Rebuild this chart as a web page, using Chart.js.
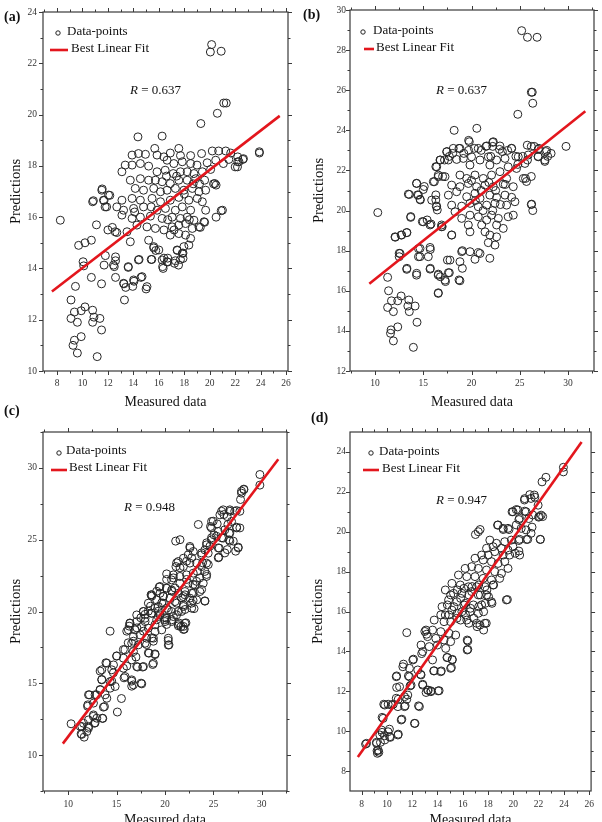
<!DOCTYPE html>
<html>
<head>
<meta charset="utf-8">
<script src="https://cdn.jsdelivr.net/npm/chart.js@4.4.0/dist/chart.umd.min.js"></script>
<style>
  html, body { margin: 0; padding: 0; background: #fff; overflow: hidden; }
  #page { position: relative; width: 602px; height: 822px; overflow: hidden; background: #fff; }
  canvas { position: absolute; }
  .tag { position: absolute; font: bold 14px "Liberation Serif", serif; line-height: 14px; color: #111; }
</style>
</head>
<body>
<div id="page">
  <canvas id="ca" width="301" height="411" style="left:0;top:0"></canvas>
  <canvas id="cb" width="301" height="411" style="left:301px;top:0"></canvas>
  <canvas id="cc" width="301" height="418" style="left:0;top:411px"></canvas>
  <canvas id="cd" width="301" height="418" style="left:301px;top:411px"></canvas>
  <div class="tag" style="left:4px;top:10px">(a)</div>
  <div class="tag" style="left:303px;top:8px">(b)</div>
  <div class="tag" style="left:4px;top:404px">(c)</div>
  <div class="tag" style="left:311px;top:411px">(d)</div>
</div>
<script>
/****************** data ******************/
const aPts = [[8.26,15.88],[9.7,14.9],[10.2,15.0],[10.7,15.1],[10.05,14.26],[10.1,14.1],[10.8,16.6],[11.1,15.7],[11.55,17.1],[11.7,16.65],[11.9,16.4],[12.15,16.85],[12.0,15.5],[12.35,15.6],[12.7,15.4],[11.8,14.5],[11.7,14.13],[11.5,13.4],[10.7,13.65],[9.45,13.3],[9.1,12.77],[9.37,12.3],[9.1,12.05],[9.6,11.9],[9.9,12.35],[10.2,12.5],[10.8,12.37],[10.9,12.1],[10.8,11.9],[11.37,12.05],[11.5,11.6],[9.37,11.2],[9.26,11.0],[9.9,11.34],[9.6,10.7],[11.16,10.56],[12.6,14.3],[12.6,14.45],[12.5,14.07],[12.6,13.65],[13.26,13.4],[13.3,12.77],[13.4,13.26],[13.6,14.07],[13.95,13.3],[14.05,13.5],[14.6,13.65],[15.0,13.2],[14.45,14.35],[15.45,14.35],[15.6,14.8],[15.76,14.7],[16.3,14.07],[16.4,14.4],[16.7,14.25],[16.7,14.4],[17.3,14.3],[17.55,14.13],[17.7,14.35],[17.9,14.6],[17.45,14.7],
  [20.3,17.3],[20.5,17.25],[20.9,16.25],[20.5,16.0],[19.6,15.8],[19.26,15.6],[19.3,19.65],[20.6,20.05],[21.1,20.45],[21.3,20.45],[20.15,22.73],[20.05,22.44],[20.9,22.47],[23.9,18.5],[22.6,18.25],[22.0,17.96],[22.2,18.16],
  [14.36,19.13],[16.26,19.16],[15.68,18.68],[17.57,18.68],[16.9,18.5],[17.7,18.4],[18.5,18.4],[19.36,18.48],[20.2,18.58],[20.7,18.58],[21.26,18.58],[21.65,18.5],[22.2,18.35],[22.65,18.28],[23.9,18.55],[13.9,18.42],[14.4,18.48],[14.95,18.45],[15.86,18.42],[16.4,18.35],
  [13.36,18.03],[13.9,18.03],[14.55,18.09],[15.2,17.99],[16.65,18.22],[17.18,18.09],[17.84,18.16],[18.5,18.09],[19.0,18.03],[19.8,18.12],[20.47,18.22],[21.07,18.09],[21.5,18.25],[22.3,18.16],[22.18,17.96],[13.1,17.77],
  [15.86,17.77],[16.5,17.83],[17.13,17.7],[17.7,17.77],[18.23,17.77],[18.76,17.7],[19.42,17.77],[20.07,17.86],[13.76,17.44],[14.55,17.5],[15.2,17.44],[15.73,17.44],[16.26,17.38],[16.9,17.31],[17.57,17.44],[18.23,17.44],[18.9,17.5],[19.6,17.44],[20.4,17.31],
  [11.52,17.05],[12.05,16.86],[14.15,17.12],[14.8,17.05],[15.6,17.12],[16.13,16.99],[16.65,17.05],[17.3,17.12],[17.97,17.05],[18.63,17.12],[19.15,16.99],[19.68,17.05],[10.86,16.64],[11.65,16.66],[11.78,16.4],[13.1,16.66],[13.9,16.73],[14.55,16.66],[15.47,16.73],[16.13,16.6],[16.9,16.66],[17.57,16.77],[18.36,16.66],[19.02,16.73],[19.42,16.6],
  [12.7,16.4],[13.23,16.27],[14.02,16.34],[14.8,16.4],[15.86,16.27],[16.52,16.34],[17.3,16.27],[17.84,16.4],[18.5,16.27],[19.68,16.27],[21.0,16.27],[13.1,16.08],[13.9,15.95],[14.55,16.0],[15.34,16.04],[16.26,15.95],[17.05,16.0],[17.7,15.95],[18.23,16.0],[18.76,15.88],[19.55,15.82],
  [12.57,15.43],[13.5,15.43],[14.28,15.69],[15.07,15.62],[15.73,15.56],[16.4,15.5],[17.05,15.62],[17.57,15.69],[18.1,15.75],[18.63,15.56],[19.15,15.62],[16.9,15.3],[17.57,15.36],[18.1,15.3],[18.5,15.17],
  [13.76,15.04],[15.2,15.1],[15.6,14.85],[16.0,14.72],[17.44,14.72],[17.97,14.85],[18.36,14.91],[17.84,14.59],
  [12.44,14.13],[13.6,14.04],[14.4,14.33],[15.4,14.35],[16.26,14.33],[16.65,14.26],[16.34,14.0],[17.23,14.2],[17.9,14.39],
  [13.23,13.42],[14.02,13.55],[14.68,13.68],[15.07,13.29],
  [18.0,16.9],[18.7,17.3],[17.4,17.6],[16.6,17.6],[19.2,17.3],[18.4,15.9],[17.2,15.5],[16.7,15.9],[15.4,16.4],[14.1,16.2]];
const aFitX = [7.6, 25.5];
const aFitY = [13.1, 19.95];

const bPts = [[10.28,19.9],[11.3,16.67],[11.4,16.0],[11.3,15.17],[11.7,15.5],[11.9,14.96],[12.35,15.5],[12.7,15.74],[11.66,14.05],[11.6,13.88],[12.35,14.2],[11.9,13.5],[13.5,15.54],[13.4,15.24],[13.55,14.96],[14.15,15.24],[14.35,14.43],[13.97,13.18],
  [12.1,18.67],[12.7,18.78],[13.3,18.9],[12.5,17.87],[12.5,17.7],[13.3,17.12],[14.3,16.78],[13.7,19.7],[13.55,20.8],
  [14.3,21.36],[14.4,20.78],[14.7,20.53],[15.1,21.2],[14.5,18.1],[14.5,17.7],[14.9,19.45],[15.4,19.53],[15.8,19.33],[15.73,18.06],[15.73,17.12],[16.3,20.53],[16.35,20.2],[16.45,20.03],[16.3,20.78],[16.15,21.44],[16.3,22.19],[16.55,21.77],[16.55,16.78],[16.55,15.87],[16.77,16.7],[16.96,19.2],[17.3,16.46],[17.7,16.9],[17.5,17.53],[17.95,18.78],[18.7,16.54],[19.05,18.0],[19.05,17.12],[17.0,21.7],[17.2,22.52],[16.77,22.52],[17.46,22.94],[17.7,22.7],[18.05,22.85],[18.2,24.0],[20.55,24.1],[18.7,23.1],[19.7,23.5],[19.7,23.0],[19.2,22.85],[20.3,23.1],[21.0,23.0],[21.5,23.2],[22.2,23.4],[22.2,23.2],[22.9,23.05],[23.2,22.94],[23.75,23.0],[24.15,23.1],
  [24.8,24.8],[26.2,25.9],[26.3,25.9],[26.35,25.35],[25.2,28.97],[25.8,28.64],[26.8,28.64],[26.2,23.2],[26.5,23.2],[27.0,23.1],[26.9,22.7],[27.7,22.94],[27.9,22.7],[27.6,22.45],[28.25,22.85],[29.8,23.2],[26.2,21.7],[25.6,21.6],[25.7,21.45],[26.2,20.3],[26.35,20.0],[24.8,22.3],[24.6,22.7],[25.3,22.7],[25.8,22.52],
  [19.77,23.43],[17.42,22.93],[18.11,23.1],[18.8,23.1],[20.7,23.1],[21.57,23.22],[22.26,23.43],[22.95,23.22],[24.16,23.1],[25.78,23.26],[26.92,23.05],[27.8,23.0],
  [16.73,22.52],[17.6,22.52],[18.46,22.55],[19.15,22.6],[20.0,22.68],[20.88,22.52],[21.74,22.68],[22.6,22.52],[23.47,22.6],[24.85,22.68],[25.88,22.77],[26.92,22.68],[27.6,22.52],[25.54,22.35],[16.39,22.18],[19.84,22.27],[21.9,22.27],[23.8,22.18],[24.67,22.1],
  [16.56,21.69],[17.25,21.69],[18.8,21.77],[19.5,21.6],[20.36,21.77],[21.22,21.6],[22.08,21.77],[22.95,21.94],[23.64,21.6],[25.37,21.6],[16.04,21.44],[14.31,21.35],[17.94,21.27],[18.8,21.19],[19.67,21.35],[20.53,21.19],[21.4,21.27],[22.26,21.19],[23.29,21.32],[24.33,21.19],
  [13.45,20.82],[14.49,20.77],[15.0,21.05],[17.6,20.77],[18.46,20.94],[19.5,20.69],[20.36,20.86],[20.88,20.61],[21.9,20.77],[22.6,20.66],[23.47,20.77],[24.16,20.66],[24.5,20.44],[14.66,20.56],[15.87,20.52],[16.39,20.22],[17.94,20.27],[18.98,20.22],[19.84,20.36],[20.7,20.19],[21.57,20.27],[22.43,20.36],[23.64,20.27],[26.23,20.32],
  [13.69,19.66],[15.0,19.44],[15.7,19.28],[16.9,19.28],[18.29,19.94],[18.98,19.61],[19.84,19.77],[20.7,19.69],[21.57,19.53],[22.08,19.77],[22.78,19.61],[23.8,19.69],[24.33,19.77],[19.67,19.28],[21.05,19.28],[22.6,19.28],
  [12.07,18.69],[12.76,18.78],[13.28,18.9],[16.9,19.19],[17.94,18.78],[19.84,18.94],[21.4,18.94],[21.9,18.78],[22.6,18.69],[23.29,19.11],[21.74,18.4],[22.43,18.28],
  [12.59,17.86],[14.66,18.11],[15.7,18.16],[14.66,17.7],[15.52,17.7],[17.77,17.53],[18.98,17.95],[19.84,17.95],[20.7,17.9],[20.36,17.57],[21.9,17.62],[20.88,17.86],
  [13.28,17.07],[14.31,16.87],[15.7,17.08],[16.56,16.83],[17.6,16.9],[17.25,16.53],[18.8,16.5],[18.8,17.45],[16.56,15.9],
  [21.0,21.0],[21.8,21.4],[22.5,21.0],[23.0,20.3],[20.4,20.5],[21.2,20.0],[22.2,20.0],[23.5,21.3],[20.0,21.5],[22.0,22.7]];
const bFitX = [9.4, 31.8];
const bFitY = [16.35, 24.95];

const cPts = [[10.3,12.18],[11.24,12.0],[11.4,11.44],[11.65,11.25],[12.1,12.0],[12.6,12.7],[12.78,12.25],[12.0,13.4],[12.2,14.2],[12.95,14.2],[13.3,14.57],[13.47,15.27],[13.3,15.85],[13.9,16.43],[13.64,13.34],[13.57,12.55],[15.08,13.0],[15.5,13.94],[14.67,15.73],[14.5,15.15],[14.33,18.63],[15.0,16.89],[15.77,15.38],[16.05,16.2],[16.56,15.15],[17.6,14.96],[16.56,14.8],[17.16,16.13],[17.7,16.13],[17.0,16.83],[15.7,17.35],[16.2,17.82],[16.3,18.98],[16.37,19.2],[16.05,18.63],[16.74,17.93],[17.1,18.86],[17.5,19.56],[17.94,19.8],[18.28,20.02],[18.5,20.37],[17.77,18.63],[18.1,17.7],[18.28,17.12],[18.73,16.31],[18.97,17.0],[18.63,18.17],[18.8,17.93],[18.63,21.07],[19.14,21.41],[19.4,21.7],[19.83,21.07],[19.66,20.6],[19.3,20.02],[20.0,19.56],[20.17,19.1],[20.34,17.98],[20.34,17.66],[20.17,22.62],[20.17,22.23],[20.7,21.41],[20.86,22.34],[21.2,23.39],[21.1,24.9],[21.55,25.0],[21.37,19.1],[21.9,18.75],[22.16,19.21],[22.06,20.14],[21.7,20.95],[21.55,23.04],[22.23,23.5],[22.23,22.23],[22.58,24.43],[22.75,23.74],[22.9,21.88],[23.0,20.2],[22.9,20.77],[23.26,22.1],[23.6,22.34],[23.44,26.06],[23.78,24.08],[23.88,23.39],[24.12,20.72],[23.78,21.53],[24.3,22.58],[24.47,23.27],[24.64,24.55],[24.8,25.13],[24.8,25.82],[24.98,26.29],[25.5,23.74],[25.5,24.43],[25.84,25.13],[25.84,26.98],[26.08,26.75],[26.18,24.08],[26.43,24.31],[26.5,26.06],[26.7,26.98],[26.7,24.9],[27.2,26.98],[27.3,24.2],[27.56,24.43],[27.73,25.82],[27.8,27.8],[27.73,26.98],[27.4,25.82],[27.05,24.9],[27.9,28.38],[28.15,28.49],[29.8,29.54],[29.8,28.8],[26.7,25.47],[25.33,25.24],[24.3,24.78],
  [28.14,28.52],[27.9,28.24],[27.39,27.03],[26.7,27.08],[26.01,27.08],[25.67,26.73],[26.42,26.61],[26.87,26.27],[27.39,25.87],[27.56,24.48],[26.63,25.45],[26.18,25.69],[25.39,26.1],[24.81,26.27],[24.7,25.92],[25.5,25.57],[25.05,25.34],[26.01,25.11],[26.63,24.99],[25.6,24.41],[24.81,24.99],[24.29,24.64],[24.12,24.29],[24.46,24.06],[25.56,23.78],[23.78,23.95],[22.57,24.53],[22.92,24.18],[22.4,23.95],[21.9,23.71],[21.37,23.48],[21.13,23.13],[21.9,23.13],[22.57,23.37],[23.27,23.37],[23.78,23.13],[24.29,23.37],[23.33,22.79],[22.92,22.67],[22.23,22.55],[21.54,22.44],[20.86,22.55],[20.68,22.2],[21.54,21.97],[22.4,21.97],[23.09,21.86],[23.95,21.97],[24.29,22.44],[24.12,22.79],[19.48,21.74],[20.17,21.63],[21.03,21.63],[22.06,21.39],[22.92,21.28],[23.6,21.39],[23.27,20.81],[22.57,20.93],[21.9,21.04],[18.62,21.16],[19.82,21.04],[20.51,20.93],[21.2,20.58],[21.9,20.35],[22.75,20.58],[24.12,20.74],[18.28,20.58],[19.31,20.35],[20.17,20.23],[20.68,20.0],[21.2,19.77],[21.7,20.0],[17.76,20.0],[18.62,19.88],[19.31,19.65],[19.99,19.42],[20.68,19.3],[17.94,19.3],[18.96,19.07],[21.47,19.19],[21.9,18.96],
  [18.56,21.16],[19.49,21.27],[20.17,21.62],[20.69,21.5],[21.38,21.27],[22.06,21.16],[22.75,21.27],[19.14,20.81],[19.83,20.58],[21.03,20.69],[21.89,20.46],[22.75,20.23],[18.97,20.23],[20.34,20.11],[21.38,20.0],[17.77,20.0],[18.63,19.88],[19.49,19.76],[20.17,19.53],[20.86,19.65],[17.08,19.76],[17.94,19.53],[19.14,19.42],[20.0,19.3],[20.69,19.42],[21.38,19.0],[21.65,18.95],[22.06,19.18],[21.99,18.77],[16.39,19.18],[17.08,19.3],[16.22,18.72],[16.91,18.72],[17.6,18.95],[18.28,18.84],[18.97,18.6],[19.66,18.72],[16.74,18.26],[17.42,18.37],[18.11,18.14],[18.8,18.14],[20.34,18.14],[20.41,17.68],[16.56,17.79],[17.25,17.68],[17.94,17.79],[15.88,17.33],[16.74,17.21],[18.35,17.1],[18.97,17.05],[18.8,16.4],[15.02,16.91],[15.7,16.75],[16.56,16.63],[17.08,16.17],[17.77,16.17],[13.99,16.4],[14.68,16.28],[15.7,16.05],[13.47,15.94],[14.5,15.94],[15.88,15.47],[16.56,15.24],[16.74,14.89],[17.53,15.01],[13.47,15.24],[14.33,15.12],[14.85,14.78],[13.3,14.54],[14.33,14.66],[13.82,14.2],[12.1,14.2],[12.78,14.2],[13.99,13.96],[12.03,13.5],[12.61,13.62],[13.75,13.38],[12.61,12.8],[12.1,12.45],[12.96,12.57],[13.54,12.57],[11.58,12.22],[12.71,12.22],[11.41,11.99],[12.1,11.88],[11.34,11.48],[11.93,11.64]];
const cFitX = [9.45, 31.7];
const cFitY = [10.8, 30.6];

const dPts = [[23.96,23.23],[23.96,23.0],[22.58,22.73],[22.27,22.5],[21.3,21.86],[20.9,21.66],[21.7,21.73],[21.96,21.33],[22.0,20.73],[22.2,20.83],[22.14,19.61],[21.48,20.23],[21.22,20.66],[20.9,21.03],[20.23,21.11],[19.9,21.0],[20.44,20.61],[21.04,19.61],[20.44,19.56],[20.44,19.03],[20.5,18.83],[19.66,20.11],[19.2,20.11],[18.75,20.33],[17.37,20.11],[17.0,19.86],[19.53,16.6],
  [8.31,9.35],[9.17,9.44],[9.22,9.02],[9.36,8.94],[9.49,9.44],[9.62,9.94],[9.8,9.77],[10.27,9.69],[10.2,10.1],[10.9,9.85],[9.75,11.35],[9.62,10.69],[10.1,11.35],[10.5,11.35],[10.77,12.19],[10.77,12.77],[10.9,11.6],[11.18,10.6],[11.44,11.27],[11.57,11.6],[11.57,14.94],[11.31,13.36],[11.7,12.77],[11.83,12.27],[12.22,10.39],[12.1,13.61],[12.5,11.27],[12.67,12.85],[12.75,13.89],[12.83,12.35],[13.1,11.94],[13.27,12.05],[13.48,12.02],[14.05,12.02],[13.7,13.02],[14.3,13.02],[14.75,13.69],[15.17,13.6],[15.1,13.19],[16.4,14.52],[16.4,14.1],[13.14,14.86],[13.0,15.0],
  [21.66,21.84],[21.4,21.67],[20.88,21.59],[20.36,21.09],[19.97,21.0],[21.01,21.0],[21.53,20.84],[22.06,20.76],[22.32,20.76],[20.49,20.67],[20.23,20.34],[19.58,20.17],[20.62,20.17],[21.01,20.09],[21.4,19.92],[20.49,19.62],[21.14,19.62],[22.13,19.62],[18.79,20.34],[19.19,20.17],[17.23,20.0],[18.14,19.58],[18.66,19.42],[19.32,19.5],[19.84,19.58],[19.97,19.25],[19.58,19.08],[19.06,19.17],[18.4,19.25],[17.88,19.17],[17.49,18.83],[18.01,18.83],[18.53,19.0],[19.19,18.83],[19.71,18.83],[20.15,18.92],[16.97,18.67],[17.62,18.58],[18.27,18.5],[18.79,18.41],[19.32,18.5],[19.58,18.16],[16.19,18.16],[16.71,18.25],[17.23,18.16],[17.88,18.08],[18.53,18.0],[19.06,17.91],[15.66,17.83],[16.32,17.75],[16.97,17.75],[17.62,17.66],[18.27,17.58],[18.92,17.66],[15.14,17.41],[15.8,17.33],[16.45,17.24],[17.1,17.24],[17.75,17.24],[18.4,17.33],[14.62,17.08],[15.27,16.91],[15.93,16.91],[16.71,17.0],[17.23,16.83],[17.88,16.83],[18.27,16.49],[19.45,16.58],[14.88,16.58],[15.53,16.49],[16.19,16.41],[16.84,16.33],[17.49,16.33],[14.36,16.24],[15.14,16.07],[15.93,15.99],[16.58,15.99],[17.23,15.91],[14.62,15.82],[15.53,15.66],[16.32,15.57],[17.1,15.41],[17.75,15.41],[17.36,15.32],
  [15.04,16.83],[15.57,17.08],[16.09,17.16],[16.74,17.25],[17.26,17.33],[17.91,17.08],[18.44,17.33],[15.83,16.66],[16.48,16.83],[17.39,16.83],[18.04,16.74],[14.78,16.33],[15.3,16.24],[16.09,16.33],[16.61,16.16],[17.26,16.24],[17.78,16.41],[18.31,16.41],[14.26,15.83],[14.91,15.83],[15.57,15.91],[16.22,15.83],[16.87,15.66],[17.65,15.99],[13.74,15.57],[14.52,15.49],[15.04,15.49],[15.83,15.57],[16.48,15.41],[17.13,15.24],[17.65,15.07],[17.86,15.41],[13.09,15.07],[13.61,15.07],[14.26,14.99],[14.91,14.91],[15.44,14.82],[13.22,14.74],[13.87,14.65],[14.52,14.57],[15.04,14.49],[16.35,14.57],[16.35,14.07],[12.7,14.32],[13.35,14.24],[14.0,14.32],[14.65,14.15],[12.83,13.99],[13.61,13.57],[14.78,13.7],[15.17,13.57],[12.05,13.57],[11.78,13.15],[12.44,13.07],[11.26,13.23],[13.74,13.03],[14.26,12.98],[15.04,13.15],[10.74,12.73],[11.78,12.73],[12.7,12.82],[11.0,12.23],[11.91,12.31],[12.83,12.31],[13.22,12.06],[14.13,12.03],[13.48,11.98],[10.74,11.65],[11.39,11.73],[11.65,11.81],[9.83,11.31],[10.35,11.31],[10.87,11.23],[11.39,11.23],[12.57,11.23],[9.7,10.64],[11.13,10.56],[12.18,10.39],[9.57,10.06],[10.09,9.97],[9.44,9.81],[10.22,9.72],[10.87,9.81],[9.83,9.56],[8.39,9.39],[9.18,9.39],[9.31,9.05],[9.25,8.89]];
const dFitX = [7.7, 25.4];
const dFitY = [8.7, 24.5];

// tick values
const aXTicks = [8, 10, 12, 14, 16, 18, 20, 22, 24, 26];
const aXMinor = [7, 9, 11, 13, 15, 17, 19, 21, 23, 25];
const aYTicks = [10, 12, 14, 16, 18, 20, 22, 24];
const aYMinor = [11, 13, 15, 17, 19, 21, 23];
const bXTicks = [10, 15, 20, 25, 30];
const bXMinor = [7.5, 12.5, 17.5, 22.5, 27.5, 32.5];
const bYTicks = [12, 14, 16, 18, 20, 22, 24, 26, 28, 30];
const bYMinor = [13, 15, 17, 19, 21, 23, 25, 27, 29];
const cXTicks = [10, 15, 20, 25, 30];
const cXMinor = [7.5, 12.5, 17.5, 22.5, 27.5, 32.5];
const cYTicks = [10, 15, 20, 25, 30];
const cYMinor = [7.5, 12.5, 17.5, 22.5, 27.5, 32.5];
const dXTicks = [8, 10, 12, 14, 16, 18, 20, 22, 24, 26];
const dXMinor = [9, 11, 13, 15, 17, 19, 21, 23, 25];
const dYTicks = [8, 10, 12, 14, 16, 18, 20, 22, 24];
const dYMinor = [9, 11, 13, 15, 17, 19, 21, 23];

const serif = '"Liberation Serif", "Times New Roman", serif';

/****************** frame, outward ticks, legend, R ******************/
const frameTicks = {
  id: 'frameTicks',
  afterDraw(chart, args, o) {
    const ctx = chart.ctx, ca = chart.chartArea;
    const sx = chart.scales.x, sy = chart.scales.y;
    ctx.save();
    ctx.strokeStyle = '#3a3a3a';
    ctx.lineWidth = 1.2;
    ctx.strokeRect(ca.left, ca.top, ca.right - ca.left, ca.bottom - ca.top);
    ctx.lineWidth = 1;
    const xt = (vals, len) => vals.forEach(v => {
      const px = Math.round(sx.getPixelForValue(v)) + 0.5;
      if (px < ca.left - 0.5 || px > ca.right + 0.5) return;
      ctx.beginPath();
      ctx.moveTo(px, ca.bottom); ctx.lineTo(px, ca.bottom + len);
      ctx.moveTo(px, ca.top); ctx.lineTo(px, ca.top - len);
      ctx.stroke();
    });
    const yt = (vals, len) => vals.forEach(v => {
      const py = Math.round(sy.getPixelForValue(v)) + 0.5;
      if (py < ca.top - 0.5 || py > ca.bottom + 0.5) return;
      ctx.beginPath();
      ctx.moveTo(ca.left, py); ctx.lineTo(ca.left - len, py);
      ctx.moveTo(ca.right, py); ctx.lineTo(ca.right + len, py);
      ctx.stroke();
    });
    xt(o.xMajor, 4); xt(o.xMinor, 2.5);
    yt(o.yMajor, 4); yt(o.yMinor, 2.5);

    // legend
    const L = o.legend;
    ctx.fillStyle = '#111';
    ctx.textBaseline = 'middle';
    ctx.font = '13px ' + serif;
    ctx.beginPath();
    ctx.arc(L.mx, L.my, 2.2, 0, Math.PI * 2);
    ctx.strokeStyle = '#222';
    ctx.stroke();
    ctx.fillText('Data-points', L.tx, L.ty);
    ctx.beginPath();
    ctx.strokeStyle = '#e3161d';
    ctx.lineWidth = 2.6;
    ctx.moveTo(L.lx0, L.ly); ctx.lineTo(L.lx1, L.ly);
    ctx.stroke();
    ctx.fillText('Best Linear Fit', L.tx2, L.ty2);

    // R label
    ctx.font = 'italic 13px ' + serif;
    ctx.fillText('R', o.rPos[0], o.rPos[1]);
    const w = ctx.measureText('R').width;
    ctx.font = '13px ' + serif;
    ctx.fillText(' = ' + o.rText, o.rPos[0] + w, o.rPos[1]);
    ctx.restore();
  }
};

function makePanel(id, p) {
  return new Chart(document.getElementById(id), {
    type: 'scatter',
    data: {
      datasets: [
        { order: 0, showLine: true, data: p.fitX.map((v, i) => ({x: v, y: p.fitY[i]})),
          borderColor: '#e3161d', borderWidth: 2.6, pointRadius: 0, fill: false },
        { order: 1, data: p.pts.map(d => ({x: d[0], y: d[1]})),
          pointRadius: 4, borderWidth: 1, borderColor: '#262626', backgroundColor: 'rgba(255,255,255,0)' }
      ]
    },
    options: {
      responsive: false,
      animation: false,
      events: [],
      layout: { padding: p.pad },
      scales: {
        x: {
          type: 'linear', min: p.xr[0], max: p.xr[1],
          afterBuildTicks: s => { s.ticks = p.xMajor.map(v => ({value: v})); },
          afterFit: s => { s.height = p.xH; },
          grid: { display: false, drawTicks: false },
          border: { display: false },
          ticks: { font: { family: serif, size: 9.5 }, color: '#333', padding: p.xPad, maxRotation: 0, autoSkip: false },
          title: { display: true, text: 'Measured data', font: { family: serif, size: 14 }, color: '#111', padding: { top: 0, bottom: 0.6 } }
        },
        y: {
          type: 'linear', min: p.yr[0], max: p.yr[1],
          afterBuildTicks: s => { s.ticks = p.yMajor.map(v => ({value: v})); },
          afterFit: s => { s.width = p.yW; },
          grid: { display: false, drawTicks: false },
          border: { display: false },
          ticks: { font: { family: serif, size: 9.5 }, color: '#333', padding: p.yPad, autoSkip: false },
          title: { display: true, text: 'Predictions', font: { family: serif, size: 14.5 }, color: '#111', padding: { top: p.yTitlePad, bottom: 0 } }
        }
      },
      plugins: {
        legend: { display: false },
        tooltip: { enabled: false },
        frameTicks: {
          xMajor: p.xMajor, xMinor: p.xMinor, yMajor: p.yMajor, yMinor: p.yMinor,
          legend: p.legend, rText: p.rText, rPos: p.rPos
        }
      }
    },
    plugins: [frameTicks]
  });
}

makePanel('ca', {
  pts: aPts, fitX: aFitX, fitY: aFitY, xr: [6.9, 26.15], yr: [10, 24],
  xMajor: aXTicks, xMinor: aXMinor, yMajor: aYTicks, yMinor: aYMinor,
  pad: { left: 0, top: 12, right: 13, bottom: 0 }, xH: 40, yW: 43, xPad: 7, yPad: 6, yTitlePad: 7.3,
  legend: { mx: 58, my: 33, tx: 67, ty: 32, lx0: 50, lx1: 68, ly: 50, tx2: 71, ty2: 49 },
  rText: '0.637', rPos: [130, 91]
});
makePanel('cb', {
  pts: bPts, fitX: bFitX, fitY: bFitY, xr: [7.4, 32.7], yr: [12, 30],
  xMajor: bXTicks, xMinor: bXMinor, yMajor: bYTicks, yMinor: bYMinor,
  pad: { left: 0, top: 10, right: 8, bottom: 0 }, xH: 40, yW: 49, xPad: 7, yPad: 4, yTitlePad: 9.3,
  legend: { mx: 62, my: 32, tx: 72, ty: 31, lx0: 63, lx1: 73, ly: 49, tx2: 75, ty2: 48 },
  rText: '0.637', rPos: [135, 91]
});
makePanel('cc', {
  pts: cPts, fitX: cFitX, fitY: cFitY, xr: [7.4, 32.6], yr: [7.5, 32.5],
  xMajor: cXTicks, xMinor: cXMinor, yMajor: cYTicks, yMinor: cYMinor,
  pad: { left: 0, top: 21, right: 14, bottom: 0 }, xH: 38, yW: 43, xPad: 8, yPad: 6, yTitlePad: 7.3,
  legend: { mx: 59, my: 42, tx: 66, ty: 40, lx0: 51, lx1: 67, ly: 59, tx2: 69, ty2: 57 },
  rText: '0.948', rPos: [124, 97]
});
makePanel('cd', {
  pts: dPts, fitX: dFitX, fitY: dFitY, xr: [7.08, 26.15], yr: [7, 25],
  xMajor: dXTicks, xMinor: dXMinor, yMajor: dYTicks, yMinor: dYMinor,
  pad: { left: 0, top: 21, right: 8, bottom: 0 }, xH: 38, yW: 49, xPad: 8, yPad: 4, yTitlePad: 8.8,
  legend: { mx: 70, my: 42, tx: 78, ty: 41, lx0: 62, lx1: 78, ly: 59, tx2: 81, ty2: 58 },
  rText: '0.947', rPos: [135, 90]
});
</script>
</body>
</html>
